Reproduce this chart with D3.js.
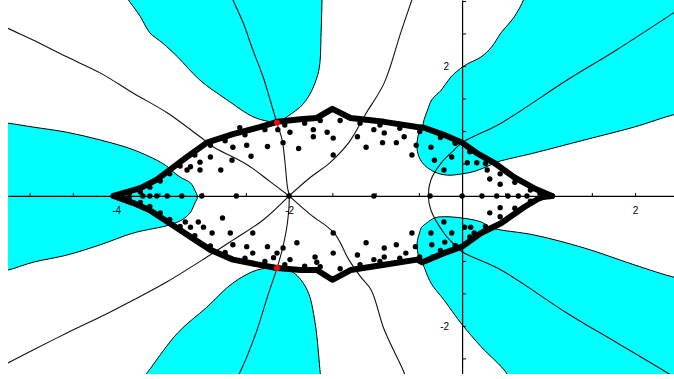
<!DOCTYPE html>
<html>
<head>
<meta charset="utf-8">
<script src="https://cdn.jsdelivr.net/npm/d3@7"></script>
<style>
  html, body { margin: 0; padding: 0; background: #fff; }
  svg { display: block; }
  text { font-family: "Liberation Sans", Arial, sans-serif; font-size: 10px; fill: #000; }
</style>
</head>
<body>
<svg id="chart" width="674" height="379"></svg>
<script>
// ---- axis setup -------------------------------------------------------
const xDomain = [-5.25, 2.45];
const yDomain = [3.015, -2.74];
const xTickValues = d3.range(-5, 2.5, 0.5);
const yTickValues = d3.range(-2.5, 3.01, 0.5);
const xTickLabels = { "-4": "-4", "-2": "-2", "2": "2" };
const yTickLabels = { "2": "2", "-2": "-2" };

// ---- shaded (cyan) regions --------------------------------------------
const leftLobe = [[-5.4,1.14],[-5.25,1.12],[-4.96,1.06],[-4.57,0.98],[-4.18,0.86],[-3.80,0.71],
  [-3.45,0.49],[-3.33,0.36],[-3.26,0.29],[-3.14,0.20],[-3.09,0.09],[-3.06,-0.02],[-3.09,-0.11],
  [-3.14,-0.25],[-3.24,-0.37],[-3.35,-0.43],[-3.45,-0.47],[-3.80,-0.57],[-4.18,-0.75],
  [-4.57,-0.91],[-4.96,-1.02],[-5.25,-1.14],[-5.4,-1.16]];
const upperLobe = [[-3.90,3.10],[-3.86,3.02],[-3.72,2.76],[-3.61,2.51],[-3.46,2.35],[-3.29,2.14],
  [-3.03,1.78],[-2.72,1.48],[-2.42,1.22],[-2.25,1.15],[-2.14,1.13],[-2.10,1.15],[-1.99,1.25],
  [-1.87,1.37],[-1.78,1.52],[-1.70,1.74],[-1.65,1.98],[-1.63,2.51],[-1.62,3.02],[-1.62,3.10]];
const lowerLobe = [[-3.70,-2.82],[-3.64,-2.72],[-3.29,-2.11],[-2.95,-1.71],[-2.65,-1.34],
  [-2.37,-1.14],[-2.14,-1.11],[-1.95,-1.18],[-1.79,-1.45],[-1.70,-1.95],[-1.64,-2.72],[-1.63,-2.82]];
const upperWedge = [[0.72,3.10],[0.71,3.02],[0.60,2.75],[0.45,2.51],[0.34,2.29],[0.22,2.14],
  [0.06,2.03],[0,1.98],[-0.13,1.83],[-0.24,1.63],[-0.35,1.48],[-0.40,1.32],[-0.44,1.17],
  [-0.46,1.06],[-0.50,0.97],[-0.52,0.71],[-0.46,0.51],[-0.32,0.37],[-0.17,0.32],[0,0.34],
  [0.15,0.38],[0.30,0.46],[0.40,0.52],[0.83,0.66],[1.41,0.86],[1.99,1.06],[2.45,1.25],
  [2.6,1.28],[2.6,3.10]];
const lowerWedge = [[-0.47,-0.48],[-0.32,-0.34],[-0.21,-0.32],[0,-0.34],[0.22,-0.40],[0.34,-0.49],
  [0.83,-0.60],[1.41,-0.80],[1.99,-1.06],[2.45,-1.25],[2.6,-1.28],[2.6,-2.85],[0.55,-2.85],
  [0.51,-2.72],[0.22,-2.32],[0,-1.98],[-0.21,-1.60],[-0.36,-1.34],[-0.46,-1.03],[-0.50,-0.94],
  [-0.52,-0.72],[-0.47,-0.48]];

// ---- thin curves --------------------------------------------------------
const curveVertical = [[-2.67,3.10],[-2.65,3.02],[-2.53,2.66],[-2.42,2.25],[-2.30,1.83],[-2.22,1.48],
  [-2.14,1.12],[-2.08,0.86],[-2.05,0.55],[-2.02,0.14],[-2.0,0],[-2.02,-0.42],[-2.08,-0.83],
  [-2.14,-1.11],[-2.25,-1.55],[-2.37,-2.06],[-2.49,-2.48],[-2.57,-2.72],[-2.60,-2.82]];
const curveUpperLeft = [[-5.4,2.68],[-5.25,2.58],[-4.96,2.40],[-4.57,2.14],[-4.18,1.89],[-3.80,1.58],
  [-3.41,1.28],[-3.03,0.91],[-2.87,0.75],[-2.65,0.60],[-2.45,0.45],[-2.22,0.22],[-2,0]];
const curveLowerLeft = [[-5.4,-2.68],[-5.25,-2.57],[-4.96,-2.37],[-4.57,-2.11],[-4.18,-1.86],
  [-3.80,-1.60],[-3.41,-1.32],[-2.95,-0.94],[-2.65,-0.68],[-2.30,-0.37],[-2,0]];
const curveUpperRight = [[-2,0],[-1.76,0.28],[-1.53,0.51],[-1.31,0.82],[-1.12,1.25],[-0.90,1.74],
  [-0.71,2.51],[-0.58,3.02],[-0.56,3.10]];
const curveLowerRight = [[-2,0],[-1.76,-0.28],[-1.48,-0.57],[-1.31,-0.98],[-1.17,-1.25],
  [-1.05,-1.45],[-0.90,-2.06],[-0.67,-2.72],[-0.65,-2.82]];
const curveRight = [[2.6,2.95],[2.45,2.82],[1.79,2.25],[1.21,1.78],[0.45,1.12],[0,0.82],
  [-0.09,0.71],[-0.24,0.51],[-0.36,0.25],[-0.39,0],[-0.36,-0.22],[-0.21,-0.57],[-0.09,-0.75],
  [0,-0.86],[0.45,-1.14],[1.21,-1.80],[1.79,-2.26],[2.37,-2.72],[2.5,-2.83]];

// ---- closed boundary curve (upper and lower arcs) ---------------------
const boundaryUpper = [[-4.03,0],[-3.72,0.12],[-3.53,0.25],[-3.38,0.40],[-3.18,0.60],[-2.95,0.82],
  [-2.65,0.95],[-2.34,1.06],[-2.14,1.14],[-1.87,1.18],[-1.68,1.20],[-1.50,1.34],[-1.29,1.20],
  [-0.90,1.14],[-0.52,1.06],[-0.44,1.05],[-0.21,0.94],[0,0.82],[0.17,0.66],[0.37,0.51],
  [0.60,0.29],[0.83,0.12],[1.04,0]];
const boundaryLower = [[-4.03,0],[-3.80,-0.11],[-3.61,-0.22],[-3.38,-0.42],[-3.14,-0.63],
  [-2.91,-0.83],[-2.65,-0.98],[-2.34,-1.06],[-2.14,-1.11],[-1.87,-1.14],[-1.68,-1.14],
  [-1.50,-1.29],[-1.29,-1.14],[-0.90,-1.06],[-0.52,-0.98],[-0.46,-1.02],[-0.21,-0.88],
  [0,-0.78],[0.22,-0.57],[0.45,-0.42],[0.72,-0.17],[0.91,-0.02],[1.04,0]];
// inner row of points hugging the boundary
const rimUpper = [[-3.85,0.03],[-3.72,0.06],[-3.61,0.135],[-3.49,0.23],[-3.38,0.34],[-3.26,0.46],
  [-3.09,0.63],[-2.91,0.78],[-2.74,0.85],[-2.51,0.94],[-2.28,1.02],[-2.05,1.09],[-1.82,1.12],
  [-1.64,1.16],[-1.41,1.16],[-1.18,1.12],[-0.95,1.09],[-0.72,1.04],[-0.49,0.99],[-0.25,0.90],
  [-0.08,0.81],[0.09,0.68],[0.27,0.50],[0.44,0.34],[0.61,0.21],[0.79,0.09],[0.90,0.04]];
const rimLower = [[-3.85,-0.03],[-3.72,-0.10],[-3.61,-0.16],[-3.49,-0.26],[-3.38,-0.36],[-3.26,-0.47],
  [-3.09,-0.61],[-2.91,-0.77],[-2.74,-0.87],[-2.51,-0.96],[-2.28,-1.01],[-2.05,-1.06],[-1.82,-1.08],
  [-1.64,-1.09],[-1.41,-1.12],[-1.18,-1.06],[-0.95,-1.01],[-0.72,-0.96],[-0.49,-0.94],[-0.25,-0.84],
  [-0.08,-0.76],[0.09,-0.63],[0.27,-0.47],[0.44,-0.32],[0.61,-0.19],[0.79,-0.08],[0.90,-0.04]];

// ---- scattered interior points ---------------------------------------
const pointsAxis = [-3.69,-3.61,-3.53,-3.41,-3.24,-3.01,-2.61,-2.0,-1.02,-0.37,0,0.23,0.40,0.53,0.65,0.75];
const pointsUpper = [[-3.14,0.45],[-3.03,0.52],[-3.18,0.40],[-3.03,0.40],[-2.91,0.60],[-2.79,0.40],
  [-2.65,0.75],[-2.66,0.55],[-2.49,0.78],[-2.57,1.05],[-2.44,0.61],[-2.25,0.76],[-2.13,1.02],
  [-2.07,0.82],[-1.99,0.98],[-1.89,0.73],[-1.72,1.02],[-1.72,0.91],[-1.56,0.98],[-1.49,0.89],
  [-1.49,0.63],[-1.21,0.91],[-1.11,0.75],[-1.02,1.02],[-0.90,0.97],[-0.92,0.82],[-0.76,0.82],
  [-0.67,0.91],[-0.58,0.63],[-0.53,0.78],[-0.36,0.75],[-0.32,0.55],[-0.12,0.60],[-0.21,0.40],
  [0.06,0.51],[0.17,0.51],[0.29,0.40],[0.32,0.26],[0.44,0.18]];
const pointsLower = [[-3.20,-0.40],[-3.05,-0.40],[-3.14,-0.48],[-2.99,-0.48],[-2.89,-0.57],
  [-2.77,-0.34],[-2.68,-0.57],[-2.42,-0.57],[-2.49,-0.78],[-2.65,-0.75],[-2.25,-0.78],[-2.07,-0.80],
  [-1.91,-0.72],[-2.42,-0.88],[-2.18,-0.95],[-2.14,-0.88],[-1.99,-0.98],[-1.70,-0.94],[-1.68,-1.02],
  [-1.49,-0.57],[-1.49,-0.88],[-1.11,-0.72],[-1.21,-0.91],[-0.90,-0.80],[-0.76,-0.75],[-0.90,-0.94],
  [-1.02,-0.98],[-0.65,-0.88],[-0.58,-0.57],[-0.54,-0.78],[-0.36,-0.57],[-0.35,-0.75],[-0.34,-0.94],
  [-0.20,-0.71],[-0.12,-0.57],[-0.21,-0.40],[0.03,-0.48],[0.10,-0.48],[0.14,-0.57],[0.32,-0.26],
  [0.44,-0.18]];
const pointsRed = [[-2.14,1.13],[-2.14,-1.11]];

// ---- drawing ------------------------------------------------------------
const svg = d3.select("#chart");
const x = d3.scaleLinear().domain(xDomain).range([8, 674]);
const y = d3.scaleLinear().domain(yDomain).range([0, 374]);

svg.append("defs").append("clipPath").attr("id", "plotClip")
  .append("rect").attr("x", 8).attr("y", 0).attr("width", 666).attr("height", 374);

const plot = svg.append("g").attr("clip-path", "url(#plotClip)");

const smooth = d3.line().x(d => x(d[0])).y(d => y(d[1])).curve(d3.curveCatmullRom.alpha(0.5));
const straight = d3.line().x(d => x(d[0])).y(d => y(d[1]));

// shaded regions
[leftLobe, upperLobe, lowerLobe, upperWedge, lowerWedge].forEach(poly => {
  plot.append("path")
    .attr("d", smooth(poly) + "Z")
    .attr("fill", "#00ffff")
    .attr("stroke", "#000")
    .attr("stroke-width", 1);
});

// thin curves
[curveVertical, curveUpperLeft, curveLowerLeft, curveUpperRight, curveLowerRight, curveRight].forEach(c => {
  plot.append("path")
    .attr("d", smooth(c))
    .attr("fill", "none")
    .attr("stroke", "#111")
    .attr("stroke-width", 1.1);
});

// axes
const xAxis = d3.axisBottom(x)
  .tickValues(xTickValues)
  .tickSizeInner(-3).tickSizeOuter(0).tickPadding(11)
  .tickFormat(d => xTickLabels[String(d)] || "");
const yAxis = d3.axisLeft(y)
  .tickValues(yTickValues)
  .tickSizeInner(-4).tickSizeOuter(0).tickPadding(13)
  .tickFormat(d => yTickLabels[String(d)] || "");

const gx = plot.append("g").attr("transform", `translate(0,${y(0)})`).call(xAxis);
const gy = plot.append("g").attr("transform", `translate(${x(0)},0)`).call(yAxis);
[gx, gy].forEach(g => {
  g.select(".domain").attr("stroke", "#000").attr("stroke-width", 1.2);
  g.selectAll(".tick line").attr("stroke", "#000");
  g.selectAll("text").attr("font-size", 10).attr("font-family", "Liberation Sans, Arial, sans-serif");
});

// thick closed boundary
[boundaryUpper, boundaryLower].forEach(b => {
  plot.append("path")
    .attr("d", straight(b))
    .attr("fill", "none")
    .attr("stroke", "#000")
    .attr("stroke-width", 6)
    .attr("stroke-linejoin", "round")
    .attr("stroke-linecap", "round");
});

// points
const dotR = 2.7;
plot.append("g").selectAll("circle").data(rimUpper.concat(rimLower)).join("circle")
  .attr("cx", d => x(d[0])).attr("cy", d => y(d[1])).attr("r", dotR).attr("fill", "#000");
plot.append("g").selectAll("circle").data(pointsUpper.concat(pointsLower)).join("circle")
  .attr("cx", d => x(d[0])).attr("cy", d => y(d[1])).attr("r", dotR).attr("fill", "#000");
plot.append("g").selectAll("circle").data(pointsAxis).join("circle")
  .attr("cx", d => x(d)).attr("cy", y(0)).attr("r", dotR).attr("fill", "#000");
plot.append("g").selectAll("circle").data(pointsRed).join("circle")
  .attr("cx", d => x(d[0])).attr("cy", d => y(d[1])).attr("r", 3).attr("fill", "#ff0000");
</script>
</body>
</html>
